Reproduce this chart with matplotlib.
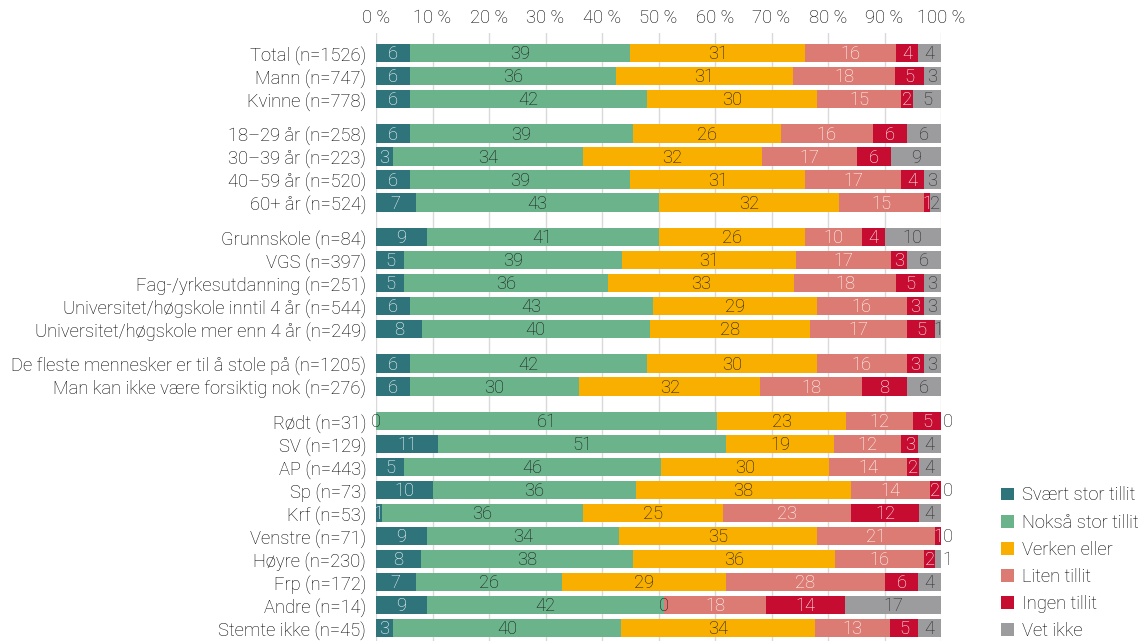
"""
Tillit fordelt på bakgrunnsvariabler: stablede, horisontale prosentstolper.
"""

import numpy as np
import matplotlib
matplotlib.use("Agg")
import matplotlib.pyplot as plt
from matplotlib.patches import Patch

plt.rcParams['font.family'] = ['Roboto', 'DejaVu Sans']
plt.rcParams['font.weight'] = 'light'

FS = 13.2

# row labels, grouped; groups get a small gap between them
groups = [
    ["Total (n=1526)", "Mann (n=747)", "Kvinne (n=778)"],
    ["18–29 år (n=258)", "30–39 år (n=223)", "40–59 år (n=520)", "60+ år (n=524)"],
    ["Grunnskole (n=84)", "VGS (n=397)", "Fag-/yrkesutdanning (n=251)",
     "Universitet/høgskole inntil 4 år (n=544)",
     "Universitet/høgskole mer enn 4 år (n=249)"],
    ["De fleste mennesker er til å stole på (n=1205)",
     "Man kan ikke være forsiktig nok (n=276)"],
    ["Rødt (n=31)", "SV (n=129)", "AP (n=443)", "Sp (n=73)", "Krf (n=53)",
     "Venstre (n=71)", "Høyre (n=230)", "Frp (n=172)", "Andre (n=14)",
     "Stemte ikke (n=45)"],
]

categories = ["Svært stor tillit", "Nokså stor tillit", "Verken eller",
              "Liten tillit", "Ingen tillit", "Vet ikke"]

svaert_stor = [6, 6, 6, 6, 3, 6, 7, 9, 5, 5, 6, 8, 6, 6,
               0, 11, 5, 10, 1, 9, 8, 7, 9, 3]
noksaa_stor = [39, 36, 42, 39, 34, 39, 43, 41, 39, 36, 43, 40, 42, 30,
               61, 51, 46, 36, 36, 34, 38, 26, 42, 40]
verken = [31, 31, 30, 26, 32, 31, 32, 26, 31, 33, 29, 28, 30, 32,
          23, 19, 30, 38, 25, 35, 36, 29, 0, 34]
liten = [16, 18, 15, 16, 17, 17, 15, 10, 17, 18, 16, 17, 16, 18,
         12, 12, 14, 14, 23, 21, 16, 28, 18, 13]
ingen = [4, 5, 2, 6, 6, 4, 1, 4, 3, 5, 3, 5, 3, 8,
         5, 3, 2, 2, 12, 1, 2, 6, 14, 5]
vet_ikke = [4, 3, 5, 6, 9, 3, 2, 10, 6, 3, 3, 1, 3, 6,
            0, 4, 4, 0, 4, 0, 1, 4, 17, 4]

colors = ["#2f737b", "#6bb38b", "#f9af00", "#dc7b73", "#c60c30", "#9c9c9e"]
text_colors = ["white", "#1a1a1a", "#1a1a1a", "white", "white", "#2a2a2a"]

series = [svaert_stor, noksaa_stor, verken, liten, ingen, vet_ikke]

# y positions with a half-row gap between groups
labels, ypos = [], []
y = 0.0
for g in groups:
    for lab in g:
        labels.append(lab)
        ypos.append(y)
        y += 1.0
    y += 0.5
ypos = np.array(ypos)

# rounded shares do not always add to 100; scale each bar to full width
data = np.array(series, dtype=float)
widths = data / data.sum(axis=0) * 100

fig = plt.figure(figsize=(11.39, 6.41), dpi=100)
ax = fig.add_axes([376 / 1139, 0, 565 / 1139, 608 / 641])

left = np.zeros(len(labels))
n_series = len(series)
for i, (col, tcol) in enumerate(zip(colors, text_colors)):
    w = widths[i]
    ax.barh(ypos, w, left=left, height=0.8, color=col, linewidth=0, zorder=2)
    for yy, l, ww, v in zip(ypos, left, w, data[i]):
        c = tcol if v > 0 else "#1a1a1a"
        if i == n_series - 1 and ww < 1.0:
            ax.text(100.3, yy + 0.05, f"{int(v)}", ha="left", va="center",
                    fontsize=FS, color="#1a1a1a", zorder=3, clip_on=False)
        else:
            ax.text(l + ww / 2, yy + 0.05, f"{int(v)}", ha="center",
                    va="center", fontsize=FS, color=c, zorder=3, clip_on=False)
    left += w

ax.set_xlim(0, 100)
ax.set_ylim(ypos[0] + 25.57, ypos[0] - 0.87)
ax.set_yticks(ypos)
ax.set_yticklabels(labels, fontsize=FS)
ax.set_xticks(np.arange(0, 101, 10))
ax.set_xticklabels([f"{t} %" for t in range(0, 101, 10)], fontsize=FS)
ax.xaxis.tick_top()
ax.tick_params(length=0, pad=7)
ax.tick_params(axis="x", pad=4)
ax.grid(axis="x", color="#d9d9d9", linewidth=1, zorder=0)
for s in ax.spines.values():
    s.set_visible(False)

handles = [Patch(facecolor=c, label=n) for c, n in zip(colors, categories)]
fig.legend(handles=handles, loc="upper left",
           bbox_to_anchor=(994 / 1139, 1 - 479 / 641),
           frameon=False, fontsize=FS, handlelength=0.7, handleheight=0.7,
           handletextpad=0.45, labelspacing=0.5, borderaxespad=0)

fig.savefig("out.png", dpi=100)
